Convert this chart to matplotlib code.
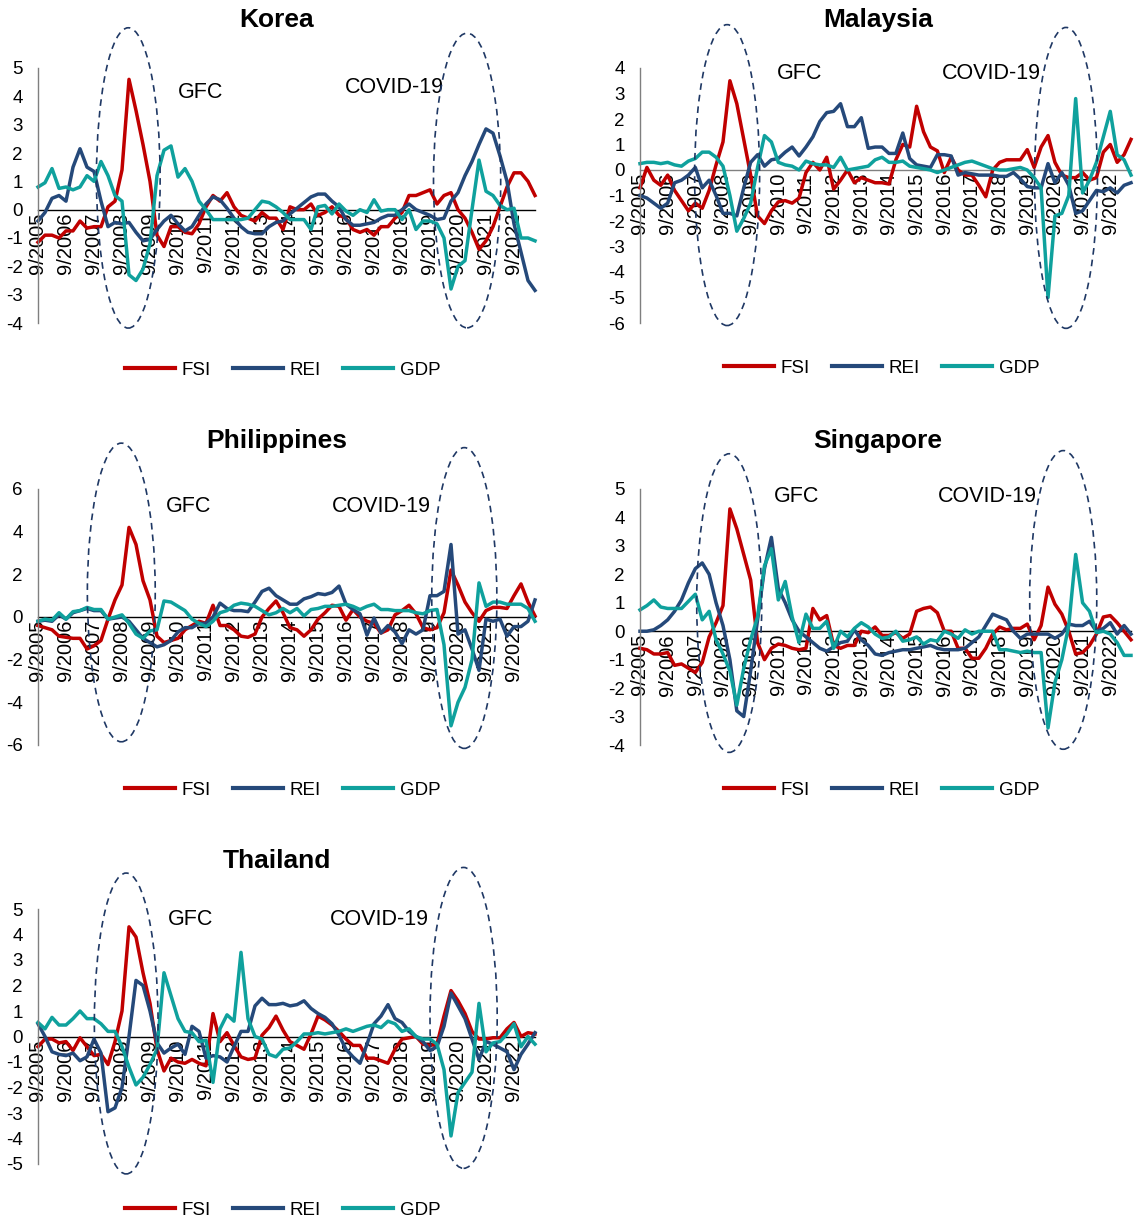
import matplotlib
matplotlib.use("Agg")
import matplotlib.pyplot as plt
from matplotlib.patches import Ellipse

plt.rcParams['font.family'] = ['Liberation Sans', 'DejaVu Sans']

# quarterly observations, 9/2005 .. 6/2023
quarters = list(range(72))
tick_pos = list(range(0, 72, 4))
tick_labels = ["9/%d" % y for y in range(2005, 2023)]
series_names = ["FSI", "REI", "GDP"]

# KOREA
kor_fsi = [-1.15, -0.9, -0.9, -1.0, -0.75, -0.75, -0.4, -0.65,
           -0.6, -0.6, 0.1, 0.3, 1.4, 4.6, 3.5, 2.3,
           1.0, -0.9, -1.3, -0.6, -0.6, -0.8, -0.85, -0.5,
           0.1, 0.5, 0.3, 0.6, 0.1, -0.2, -0.3, -0.4,
           -0.1, -0.3, -0.3, -0.7, 0.1, 0.0, 0.0, 0.2,
           -0.2, -0.1, 0.1, -0.2, -0.3, -0.7, -0.8, -0.7,
           -0.9, -0.6, -0.6, -0.3, -0.1, 0.5, 0.5, 0.6,
           0.7, 0.2, 0.5, 0.6, 0.0, -0.3, -0.8, -1.4,
           -1.1, -0.6, 0.1, 0.8, 1.3, 1.3, 1.0, 0.5]
kor_rei = [-0.4, -0.1, 0.4, 0.5, 0.3, 1.5, 2.15, 1.5,
           1.35, 0.3, -0.6, -0.45, -0.5, -0.45, -0.8, -1.1,
           -1.05, -0.7, -0.4, -0.2, -0.5, -0.75, -0.6, -0.2,
           0.2, 0.45, 0.35, 0.05, -0.3, -0.6, -0.8, -0.85,
           -0.85, -0.6, -0.45, -0.4, -0.15, 0.05, 0.25, 0.45,
           0.55, 0.55, 0.3, 0.1, -0.35, -0.55, -0.55, -0.5,
           -0.45, -0.3, -0.2, -0.2, 0.0, 0.2, 0.0, -0.1,
           -0.2, -0.35, -0.3, 0.3, 0.6, 1.2, 1.7, 2.3,
           2.85, 2.7, 1.9, 1.0, -0.5, -1.5, -2.5, -2.85]
kor_gdp = [0.8, 0.95, 1.45, 0.75, 0.8, 0.7, 0.8, 1.2,
           1.0, 1.7, 1.2, 0.5, 0.3, -2.3, -2.5, -2.1,
           -1.2, 1.2, 2.1, 2.25, 1.15, 1.45, 1.0, 0.3,
           0.0, -0.35, -0.35, -0.35, -0.35, -0.35, -0.3, 0.0,
           0.3, 0.25, 0.1, -0.1, -0.35, -0.35, -0.35, -0.7,
           0.1, 0.15, -0.15, 0.2, -0.05, -0.2, 0.0, -0.1,
           0.35, -0.05, 0.0, 0.0, -0.35, 0.0, -0.7, -0.4,
           -0.4, -0.5, -1.0, -2.8, -2.0, -1.8, 0.0, 1.75,
           0.65, 0.5, 0.15, 0.0, 0.05, -1.0, -1.0, -1.1]

# MALAYSIA
mys_fsi = [-0.7, 0.1, -0.4, -0.6, -0.2, -0.8, -1.2, -1.6,
           -1.3, -1.5, -0.8, 0.2, 1.1, 3.5, 2.6, 1.2,
           -0.2, -1.8, -2.1, -1.6, -1.25, -1.2, -1.3, -1.1,
           -0.1, 0.3, 0.0, 0.5, -0.75, -0.4, 0.0, -0.5,
           -0.3, -0.4, -0.5, -0.5, -0.55, 0.4, 1.0, 0.9,
           2.5, 1.5, 0.9, 0.75, -0.1, 0.5, 0.0, -0.2,
           -0.2, -0.6, -1.05, 0.0, 0.3, 0.4, 0.4, 0.4,
           0.8, 0.1, 0.9, 1.35, 0.3, -0.2, -0.3, -0.3,
           -0.1, -0.4, -0.3, 0.7, 1.0, 0.3, 0.6, 1.2]
mys_rei = [-1.0, -1.1, -1.3, -1.5, -1.3, -0.5, -0.4, -0.2,
           0.1, -0.7, -0.4, -1.0, -1.7, -1.7, -1.8, -0.7,
           0.3, 0.6, 0.15, 0.4, 0.45, 0.7, 0.9, 0.55,
           0.9, 1.3, 1.9, 2.25, 2.3, 2.6, 1.7, 1.7,
           2.05, 0.85, 0.9, 0.9, 0.65, 0.65, 1.45, 0.45,
           0.2, 0.15, 0.1, 0.6, 0.6, 0.55, -0.2, -0.1,
           -0.15, -0.2, -0.2, -0.2, -0.25, -0.25, -0.1, -0.35,
           -0.65, -0.7, -0.7, 0.25, -0.5, -0.1, -0.6, -1.7,
           -1.6, -1.2, -0.8, -0.85, -0.7, -0.9, -0.6, -0.5]
mys_gdp = [0.25, 0.3, 0.3, 0.25, 0.3, 0.2, 0.15, 0.35,
           0.45, 0.7, 0.7, 0.5, 0.15, -1.0, -2.4, -1.9,
           -1.3, 0.1, 1.35, 1.1, 0.3, 0.2, 0.15, 0.0,
           0.35, 0.25, 0.2, 0.2, 0.1, 0.5, 0.0, 0.05,
           0.1, 0.15, 0.4, 0.5, 0.3, 0.3, 0.35, 0.15,
           0.1, 0.05, 0.0, -0.1, 0.0, 0.1, 0.2, 0.3,
           0.35, 0.25, 0.15, 0.05, 0.0, 0.0, 0.05, 0.1,
           0.0, -0.3, -0.7, -5.0, -1.8, -1.7, -1.0, 2.8,
           -0.9, -0.4, 0.3, 1.3, 2.3, 0.6, 0.4, -0.2]

# PHILIPPINES
phl_fsi = [-0.4, -0.5, -0.6, -0.9, -0.95, -1.0, -1.0, -1.5,
           -1.35, -1.1, -0.1, 0.8, 1.5, 4.2, 3.4, 1.7,
           0.8, -0.9, -1.2, -1.1, -1.0, -0.6, -0.4, -0.2,
           -0.3, 0.55, -0.4, -0.4, -0.6, -0.9, -0.95, -0.8,
           0.0, 0.4, 0.75, 0.2, -0.5, -0.6, -0.9, -0.6,
           -0.1, 0.2, 0.55, 0.5, -0.15, 0.35, 0.0, -0.2,
           -0.3, -0.75, -0.6, 0.1, 0.3, 0.55, 0.15, -0.5,
           -0.6, -0.5, 0.2, 2.2, 1.5, 0.7, 0.2, -0.2,
           0.3, 0.45, 0.45, 0.4, 1.0, 1.55, 0.7, 0.05]
phl_rei = [-0.2, -0.15, -0.2, 0.1, -0.1, 0.2, 0.3, 0.4,
           0.3, 0.3, -0.1, -0.05, 0.0, -0.2, -0.6, -1.0,
           -1.2, -1.4, -1.3, -1.1, -0.7, -0.5, -0.5, -0.3,
           -0.3, 0.0, 0.65, 0.4, 0.3, 0.3, 0.25, 0.7,
           1.2, 1.35, 1.0, 0.8, 0.6, 0.6, 0.85, 0.95,
           1.1, 1.05, 1.15, 1.45, 0.6, 0.35, 0.15, -0.85,
           -0.05, -0.75, -0.4, -0.7, -1.25, -0.6, -0.8, -0.6,
           1.0, 1.0, 1.2, 3.4, -0.8, -0.6, -1.5, -2.5,
           -0.1, -0.2, -0.1, -0.9, -0.45, -0.45, -0.2, 0.8]
phl_gdp = [-0.2, -0.1, -0.15, 0.2, -0.1, 0.25, 0.3, 0.45,
           0.35, 0.35, -0.1, 0.0, 0.1, -0.3, -0.8, -1.0,
           -0.65, -0.6, 0.75, 0.7, 0.5, 0.3, -0.1, -0.3,
           -0.45, -0.2, 0.2, 0.3, 0.55, 0.65, 0.6, 0.5,
           0.3, 0.1, 0.2, 0.4, 0.2, 0.4, 0.05, 0.35,
           0.4, 0.5, 0.5, 0.55, 0.6, 0.5, 0.35, 0.5,
           0.6, 0.35, 0.35, 0.3, 0.3, 0.3, 0.2, 0.15,
           0.3, 0.35, -1.3, -5.1, -4.0, -3.3, -2.0, 1.6,
           0.5, 0.7, 0.7, 0.6, 0.6, 0.6, 0.4, -0.2]

# SINGAPORE
sgp_fsi = [-0.6, -0.65, -0.8, -0.8, -0.75, -1.2, -1.15, -1.3,
           -1.45, -1.1, -0.2, 0.3, 0.9, 4.3, 3.6, 2.7,
           1.8, -0.4, -1.0, -0.6, -0.45, -0.5, -0.6, -0.65,
           -0.6, 0.8, 0.4, 0.55, -0.5, -0.6, -0.5, -0.5,
           0.0, -0.05, 0.15, -0.15, -0.15, -0.05, -0.25, -0.1,
           0.7, 0.8, 0.85, 0.65, 0.0, 0.0, -0.6, -0.6,
           -0.95, -0.95, -0.6, -0.1, 0.15, 0.05, 0.1, 0.1,
           0.25, -0.3, 0.2, 1.55, 0.95, 0.6, 0.0, -0.8,
           -0.75, -0.5, -0.1, 0.5, 0.55, 0.3, 0.0, -0.3]
sgp_rei = [0.0, 0.0, 0.05, 0.2, 0.4, 0.7, 1.1, 1.7,
           2.2, 2.4, 2.0, 1.0, 0.2, -1.0, -2.8, -3.0,
           -1.4, 0.4, 2.2, 3.3, 1.5, 1.0, 0.4, 0.0,
           -0.2, -0.4, -0.6, -0.7, -0.55, -0.4, -0.35, 0.05,
           -0.3, -0.5, -0.8, -0.85, -0.75, -0.7, -0.65, -0.65,
           -0.6, -0.55, -0.5, -0.6, -0.65, -0.65, -0.65, -0.6,
           -0.4, -0.2, 0.2, 0.6, 0.5, 0.4, 0.0, -0.25,
           -0.1, -0.1, -0.1, -0.1, -0.25, -0.1, 0.25, 0.2,
           0.2, 0.35, 0.0, 0.1, 0.3, -0.1, 0.2, -0.1]
sgp_gdp = [0.75, 0.9, 1.1, 0.85, 0.8, 0.8, 0.8, 1.05,
           1.3, 0.4, 0.7, -0.3, -0.8, -1.4, -2.6, -1.3,
           -0.3, 0.5, 2.3, 2.9, 1.1, 1.75, 0.5, -0.4,
           0.6, 0.1, 0.1, 0.35, -0.6, 0.0, -0.2, 0.1,
           0.3, 0.15, -0.1, -0.25, -0.2, 0.0, -0.35, -0.3,
           -0.2, -0.45, -0.3, -0.35, 0.0, -0.1, -0.25, 0.05,
           -0.1, 0.0, 0.0, 0.0, -0.65, -0.65, -0.7, -0.75,
           -0.7, -0.75, -0.75, -3.4, -1.8, -1.0, 0.2, 2.7,
           1.0, 0.7, -0.05, 0.0, -0.1, -0.4, -0.85, -0.85]

# THAILAND
tha_fsi = [-0.4, -0.1, -0.1, -0.25, -0.2, -0.55, -0.05, -0.4,
           -0.75, -0.7, -1.1, -0.2, 1.0, 4.3, 3.9, 2.5,
           1.3, -0.5, -1.35, -0.85, -1.0, -1.05, -0.9, -1.05,
           -1.15, 0.9, -0.2, 0.15, -0.35, -0.8, -0.9, -0.85,
           0.05, 0.35, 0.8, 0.25, -0.2, -0.35, -0.5, 0.1,
           0.8, 0.65, 0.45, 0.2, -0.1, -0.35, -0.35, -0.85,
           -0.85, -0.95, -1.05, -0.5, -0.1, -0.05, 0.0, -0.3,
           -0.35, -0.3, 0.8, 1.8, 1.4, 0.9, 0.2, -0.1,
           -0.1, -0.05, -0.05, 0.3, 0.55, 0.0, 0.15, 0.1]
tha_rei = [0.5, 0.0, -0.6, -0.7, -0.75, -0.65, -0.95, -0.8,
           -0.1, -0.65, -2.95, -2.8, -2.0, 0.0, 2.2, 2.0,
           1.0, -0.25, -0.65, -0.45, -0.3, -0.7, 0.4, 0.2,
           -0.85, -0.75, -0.8, -1.0, -0.4, 0.2, 0.2, 1.2,
           1.5, 1.25, 1.25, 1.3, 1.2, 1.25, 1.4, 1.1,
           0.9, 0.75, 0.5, 0.05, -0.5, -0.8, -1.05, -0.3,
           0.5, 0.8, 1.25, 0.7, 0.55, 0.2, 0.0, -0.2,
           -0.55, -0.4, 0.4, 1.7, 1.2, 0.7, -0.1, -0.9,
           -0.2, -0.3, -0.45, -0.6, -1.3, -0.7, -0.3, 0.15]
tha_gdp = [0.55, 0.3, 0.75, 0.45, 0.45, 0.7, 1.0, 0.7,
           0.7, 0.5, 0.2, 0.2, -0.4, -1.2, -1.9, -1.6,
           -1.1, -0.5, 2.5, 1.6, 0.7, 0.2, 0.15, -0.2,
           -0.15, -1.8, 0.3, 0.85, 0.6, 3.3, 0.7, 0.0,
           -0.1, -0.7, -0.8, -0.5, -0.45, -0.2, 0.1, 0.1,
           0.15, 0.1, 0.15, 0.2, 0.3, 0.2, 0.3, 0.4,
           0.45, 0.35, 0.6, 0.5, 0.2, 0.3, 0.0, -0.1,
           -0.1, -0.3, -1.3, -3.9, -2.2, -1.8, -1.4, 1.3,
           -0.6, -0.25, -0.2, 0.1, 0.5, -0.4, 0.0, -0.3]

colors = ["#C00000", "#25497A", "#0FA19D"]
ell_color = "#1F3864"

W, H = 1134, 1220
fig = plt.figure(figsize=(W / 100, H / 100), dpi=100)


def px_rect(left, top, right, bottom):
    return [left / W, 1 - bottom / H, (right - left) / W, (bottom - top) / H]


def draw_panel(title, data, rect, yticks, title_xy, legend_y, zero_color,
               ellipses, notes):
    ax = fig.add_axes(px_rect(*rect))
    for name, vals, c in zip(series_names, data, colors):
        ax.plot(quarters, vals, color=c, lw=2.5, label=name,
                solid_joinstyle="round", clip_on=False)
    ax.set_xlim(0, 71)
    ax.set_ylim(yticks[0], yticks[-1])
    for s in ["top", "right"]:
        ax.spines[s].set_visible(False)
    ax.spines["bottom"].set_position(("data", 0))
    ax.spines["bottom"].set_color(zero_color)
    ax.spines["bottom"].set_linewidth(1.0)
    ax.spines["bottom"].set_zorder(1)
    ax.spines["left"].set_color("#7F7F7F")
    ax.spines["left"].set_linewidth(1.0)
    ax.set_yticks(yticks)
    ax.set_yticklabels([str(t) for t in yticks])
    ax.set_xticks(tick_pos)
    ax.set_xticklabels(tick_labels)
    ax.tick_params(axis="x", length=0, pad=2, labelsize=14.5, labelrotation=90)
    ax.tick_params(axis="y", length=0, pad=11, labelsize=13.5)
    ax.patch.set_visible(False)

    for (cx, cy, w, h) in ellipses:
        ax.add_patch(Ellipse((cx, cy), w, h, fill=False, ec=ell_color, lw=1.2,
                             ls=(0, (4, 3)), clip_on=False, zorder=5))
    for (tx, ty, s) in notes:
        ax.text(tx, ty, s, fontsize=15.5, ha="left", va="center")

    fig.text(title_xy[0] / W, 1 - title_xy[1] / H, title, fontsize=19,
             fontweight="bold", ha="center", va="center")
    h, l = ax.get_legend_handles_labels()
    cx = (rect[0] + rect[2]) / 2 - 4
    leg = fig.legend(h, l, loc="center",
                     bbox_to_anchor=(cx / W, 1 - legend_y / H),
                     ncol=3, frameon=False, fontsize=13.5, handlelength=2.7,
                     handletextpad=0.35, columnspacing=1.15)
    for line in leg.get_lines():
        line.set_linewidth(3.0)
    return ax


draw_panel("Korea", [kor_fsi, kor_rei, kor_gdp], (38, 68, 535, 323),
           list(range(-4, 6)), (277, 20), 370, "black",
           [(12.9, 1.12, 9.1, 10.6), (61.3, 1.03, 9.6, 10.4)],
           [(20.0, 4.15, "GFC"), (43.9, 4.3, "COVID-19")])

draw_panel("Malaysia", [mys_fsi, mys_rei, mys_gdp], (640, 68, 1131, 323),
           list(range(-6, 5)), (878, 20), 368, "#808080",
           [(12.6, -0.2, 9.4, 11.8), (61.6, -0.31, 9.1, 11.8)],
           [(19.8, 3.8, "GFC"), (43.6, 3.8, "COVID-19")])

draw_panel("Philippines", [phl_fsi, phl_rei, phl_gdp], (38, 489, 535, 745),
           list(range(-6, 7, 2)), (277, 441), 790, "black",
           [(11.9, 1.15, 9.7, 14.0), (60.9, 0.89, 9.3, 14.1)],
           [(18.3, 5.16, "GFC"), (42.0, 5.16, "COVID-19")])

draw_panel("Singapore", [sgp_fsi, sgp_rei, sgp_gdp], (640, 489, 1131, 745),
           list(range(-4, 6)), (878, 441), 790, "black",
           [(12.9, 0.99, 9.4, 10.5), (61.2, 1.1, 9.7, 10.5)],
           [(19.4, 4.72, "GFC"), (43.1, 4.72, "COVID-19")])

draw_panel("Thailand", [tha_fsi, tha_rei, tha_gdp], (38, 909, 535, 1164),
           list(range(-5, 6)), (277, 861), 1210, "black",
           [(12.6, 0.51, 9.1, 11.8), (60.8, 0.73, 9.6, 11.8)],
           [(18.6, 4.57, "GFC"), (41.7, 4.57, "COVID-19")])

fig.savefig("out.png", dpi=100)
